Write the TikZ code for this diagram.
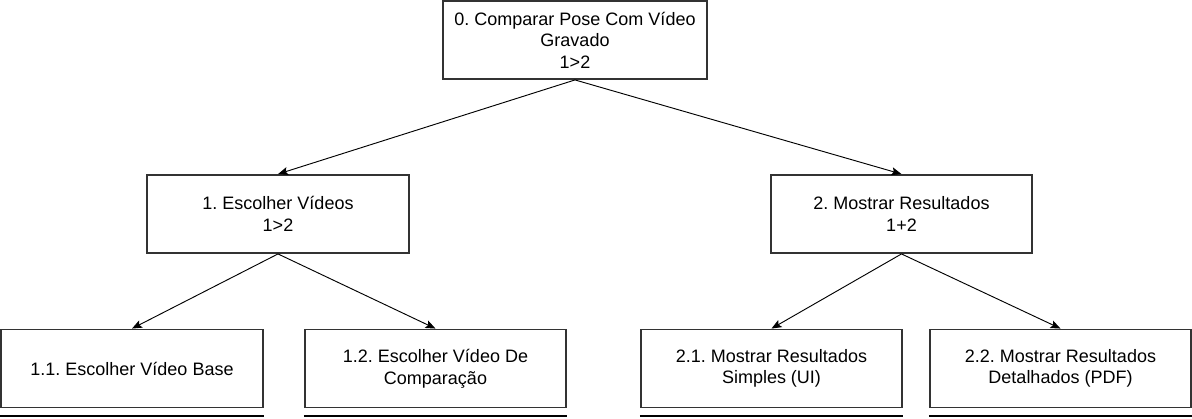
\documentclass[tikz,border=0pt]{standalone}
\usepackage{fontspec}
\setmainfont{Liberation Sans}
\usetikzlibrary{arrows.meta}
\frenchspacing

\begin{document}
\begin{tikzpicture}[x=0.75pt, y=-0.75pt,
        box/.style={draw=black!80, line width=1.4pt, minimum width=196pt, minimum height=58.5pt,
            align=center, inner sep=0pt, font=\fontsize{13.5}{16.2}\selectfont},
        link/.style={-{Stealth[length=7.5pt, width=6pt, inset=1.5pt]}, line width=0.7pt}]
    \useasboundingbox (0,0) rectangle (1192,418);
    \node[box, minimum width=198pt] (top) at (575, 40) {0. Comparar Pose Com Vídeo\\Gravado\\1>2};
    \node[box] (esc) at (278, 214) {1. Escolher Vídeos\\1>2};
    \node[box] (mos) at (901.5, 214) {2. Mostrar Resultados\\1+2};
    \node[box] (base) at (132, 368.5) {1.1. Escolher Vídeo Base};
    \node[box] (comp) at (435.5, 368.5) {1.2. Escolher Vídeo De\\Comparação};
    \node[box] (simp) at (771.5, 368.5) {2.1. Mostrar Resultados\\Simples (UI)};
    \node[box] (det) at (1060.5, 368.5) {2.2. Mostrar Resultados\\Detalhados (PDF)};
    \draw[link] (top.south) -- (esc.north);
    \draw[link] (top.south) -- (mos.north);
    \draw[link] (esc.south) -- (base.north);
    \draw[link] (esc.south) -- (comp.north);
    \draw[link] (mos.south) -- (simp.north);
    \draw[link] (mos.south) -- (det.north);
    % tops of the next row, cut off by the page
    \foreach \n in {base, comp, simp, det}
        \draw[line width=1.5pt] ([yshift=-6pt]\n.south west) -- ([yshift=-6pt]\n.south east);
\end{tikzpicture}
\end{document}
